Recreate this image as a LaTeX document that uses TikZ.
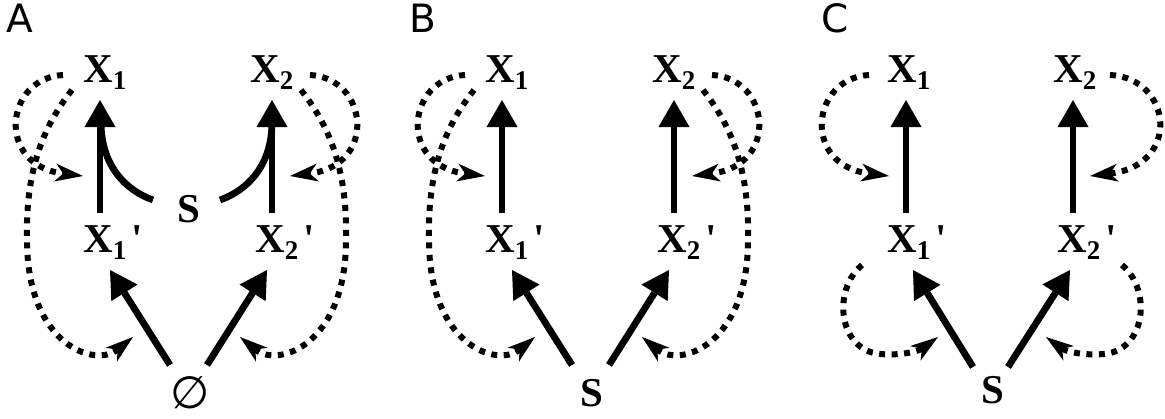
\documentclass[tikz,border=0pt]{standalone}
\usepackage{fontspec}
\setmainfont{Liberation Serif}[Ligatures=TeXOff]
\newfontfamily\labfont{DejaVu Sans}
\usetikzlibrary{arrows.meta}
\newcommand\xsub[1]{X\raisebox{-7pt}{\fontsize{27}{27}\selectfont #1}}
\newcommand\xsubp[1]{X\raisebox{-7pt}{\fontsize{27}{27}\selectfont #1}\kern5pt'}
\tikzset{
 lbl/.style={inner sep=0pt, font=\bfseries\fontsize{41}{41}\selectfont},
 tag/.style={inner sep=0pt, anchor=base west, font=\labfont\fontsize{39}{39}\selectfont},
 arr/.style={line width=6.8pt, -{Triangle[length=27pt,width=31pt,line width=0pt]}},
 boldline/.style={line width=6.8pt},
 dotarr/.style={line width=6pt, dash pattern=on 6pt off 6.5pt, -{Stealth[length=28pt,width=18pt,inset=8pt,line width=0pt]}}
}
% #1 prefix, #2 xshift, #3 bottom font, #4 bottom text
\newcommand\panelAB[4]{%
\begin{scope}[xshift=#2pt]
\node[lbl, anchor=base west] (#1X1) at (83,-82) {\xsub{1}};
\node[lbl, anchor=base west] (#1X2) at (250,-82) {\xsub{2}};
\node[lbl, anchor=base west] (#1X1p) at (83,-252) {\xsubp{1}};
\node[lbl, anchor=base west] (#1X2p) at (255,-252) {\xsubp{2}};
\node[lbl, font={#3}] (#1B) at (190,-393) {#4};
\draw[arr] ([shift={(17pt,39pt)}]#1X1p.base west) -- ([shift={(17pt,-18pt)}]#1X1.base west);
\draw[arr] ([shift={(17pt,39pt)}]#1X2p.base west) -- ([shift={(22pt,-18pt)}]#1X2.base west);
\draw[arr] ([shift={(-20pt,28pt)}]#1B.center) -- ([shift={(27pt,-18pt)}]#1X1p.base west);
\draw[arr] ([shift={(17pt,28pt)}]#1B.center) -- ([shift={(12pt,-18pt)}]#1X2p.base west);
\coordinate (#1t1) at (83,-176);
\coordinate (#1t2) at (133,-337);
\coordinate (#1t3) at (290,-176);
\coordinate (#1t4) at (240,-337);
\draw[dotarr] ([shift={(-20pt,7pt)}]#1X1.base west) .. controls (5,-78) and (-5,-165) .. (#1t1);
\draw[dotarr] ([shift={(-11pt,-8pt)}]#1X1.base west) .. controls (50,-118) and (25,-160) .. (27,-240) .. controls (27,-345) and (95,-368) .. (#1t2);
\draw[dotarr] ([shift={(60pt,7pt)}]#1X2.base west) .. controls (368,-78) and (378,-165) .. (#1t3);
\draw[dotarr] ([shift={(51pt,-8pt)}]#1X2.base west) .. controls (323,-118) and (348,-160) .. (346,-240) .. controls (346,-345) and (278,-368) .. (#1t4);
\end{scope}}
\begin{document}
\begin{tikzpicture}[x=1pt,y=1pt]
\useasboundingbox (0,0) rectangle (1165,-418);
% labels
\node[tag] (LA) at (6.7,-32) {A};
\node[tag] (LB) at (409,-32) {B};
\node[tag] (LC) at (821,-32) {C};
% panel A
\panelAB{A}{0}{\labfont\fontsize{45}{45}\selectfont}{∅}
\node[lbl] (AS) at (189,-209) {S};
\coordinate (Aj1) at (101,-122);
\coordinate (Aj2) at (272,-122);
\draw[boldline] ([shift={(-36pt,9pt)}]AS.center) .. controls (125,-190) and (101,-165) .. (Aj1);
\draw[boldline] ([shift={(31pt,9pt)}]AS.center) .. controls (248,-190) and (272,-165) .. (Aj2);
% panel B
\panelAB{B}{402}{\bfseries\fontsize{41}{41}\selectfont}{S}
% panel C
\node[lbl, anchor=base west] (CX1) at (887,-82) {\xsub{1}};
\node[lbl, anchor=base west] (CX2) at (1053,-82) {\xsub{2}};
\node[lbl, anchor=base west] (CX1p) at (887,-252) {\xsubp{1}};
\node[lbl, anchor=base west] (CX2p) at (1057,-252) {\xsubp{2}};
\node[lbl] (CS) at (993,-390) {S};
\draw[arr] ([shift={(19pt,39pt)}]CX1p.base west) -- ([shift={(19pt,-18pt)}]CX1.base west);
\draw[arr] ([shift={(16pt,39pt)}]CX2p.base west) -- ([shift={(20pt,-18pt)}]CX2.base west);
\draw[arr] ([shift={(-20pt,23pt)}]CS.center) -- ([shift={(26pt,-18pt)}]CX1p.base west);
\draw[arr] ([shift={(15pt,23pt)}]CS.center) -- ([shift={(13pt,-18pt)}]CX2p.base west);
\coordinate (Ct1) at (889,-176);
\coordinate (Ct2) at (1090,-176);
\coordinate (Ct3) at (938,-337);
\coordinate (Ct4) at (1046,-337);
\draw[dotarr] ([shift={(-18pt,7pt)}]CX1.base west) .. controls (811,-78) and (801,-165) .. (Ct1);
\draw[dotarr] ([shift={(57pt,7pt)}]CX2.base west) .. controls (1172,-78) and (1182,-165) .. (Ct2);
\draw[dotarr] ([shift={(-25pt,-13pt)}]CX1p.base west) .. controls (832,-290) and (838,-350) .. (880,-354) .. controls (905,-356) and (920,-350) .. (Ct3);
\draw[dotarr] ([shift={(65pt,-13pt)}]CX2p.base west) .. controls (1152,-290) and (1146,-350) .. (1104,-354) .. controls (1079,-356) and (1064,-350) .. (Ct4);
\end{tikzpicture}
\end{document}
